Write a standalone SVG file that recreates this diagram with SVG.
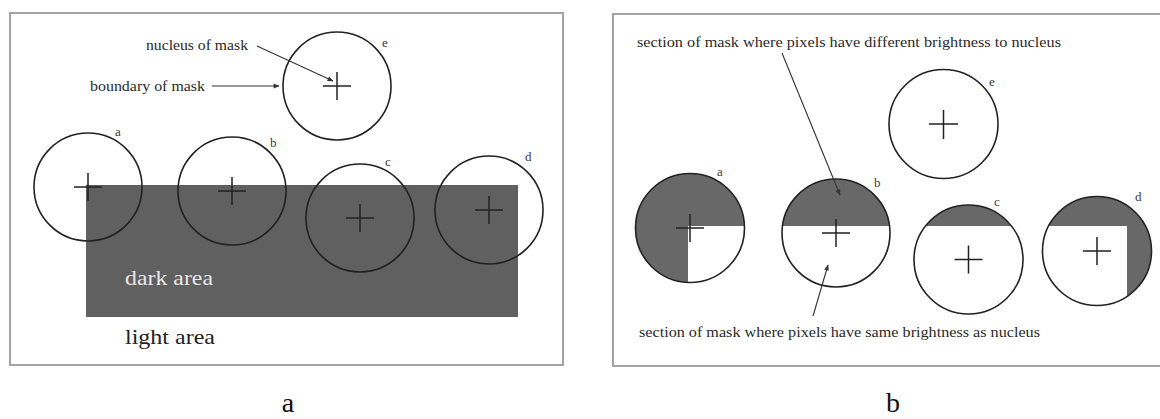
<svg xmlns="http://www.w3.org/2000/svg" width="1160" height="419" viewBox="0 0 1160 419">
<style>
.frame{fill:#fff;stroke:#a3a3a3;stroke-width:2}
.ring{fill:none;stroke:#222;stroke-width:1.6}
.plus{stroke:#222;stroke-width:1.5;fill:none}
.t{font-family:"Liberation Serif","Times New Roman",serif;fill:#2a2a2a}
.lbl{font-family:"Liberation Serif","Times New Roman",serif;font-size:13px;fill:#3a3a3a}
.cap{font-family:"Liberation Serif","DejaVu Serif",serif;font-size:28px;fill:#111;text-anchor:middle}
.gray{fill:#686868}
.arrow{stroke:#333;stroke-width:1.1;fill:none;marker-end:url(#ah)}
</style>
<defs>
<marker id="ah" viewBox="0 0 10 10" refX="9" refY="5" markerWidth="8" markerHeight="6" markerUnits="userSpaceOnUse" orient="auto">
<path d="M0,1 L10,5 L0,9 Z" fill="#333"/>
</marker>
<clipPath id="cpa"><circle cx="690" cy="228" r="54.5"/></clipPath>
<clipPath id="cpb"><circle cx="836" cy="233" r="54"/></clipPath>
<clipPath id="cpc"><circle cx="968.5" cy="259.5" r="54.5"/></clipPath>
<clipPath id="cpd"><circle cx="1097" cy="251" r="54.5"/></clipPath>
</defs>
<rect width="1160" height="419" fill="#fff"/>

<!-- Panel a -->
<g id="panel-a">
<rect class="frame" x="10" y="13" width="553" height="352"/>
<rect id="dark-rect" x="86" y="185" width="432" height="132" fill="#606060"/>
<text class="t" x="125" y="285" font-size="22" style="fill:#e8e8e8" textLength="88" lengthAdjust="spacingAndGlyphs">dark area</text>
<text class="t" x="125" y="344" font-size="22" style="fill:#222" textLength="90" lengthAdjust="spacingAndGlyphs">light area</text>
<text class="t" x="146" y="50" font-size="14" textLength="102" lengthAdjust="spacingAndGlyphs">nucleus of mask</text>
<text class="t" x="90" y="91" font-size="14" textLength="115" lengthAdjust="spacingAndGlyphs">boundary of mask</text>
</g>
<g id="a-mask-e">
<circle class="ring" cx="337" cy="86" r="54"/>
<path class="plus" d="M323,86 H351 M337,72 V100"/>
<text class="lbl" x="382" y="47">e</text>
</g>
<g id="a-mask-a">
<circle class="ring" cx="88" cy="187" r="54"/>
<path class="plus" d="M74,187 H102 M88,173 V201"/>
<text class="lbl" x="115" y="136">a</text>
</g>
<g id="a-mask-b">
<circle class="ring" cx="232" cy="191" r="54"/>
<path class="plus" d="M218,191 H246 M232,177 V205"/>
<text class="lbl" x="270" y="147">b</text>
</g>
<g id="a-mask-c">
<circle class="ring" cx="360" cy="218" r="54"/>
<path class="plus" d="M346,218 H374 M360,204 V232"/>
<text class="lbl" x="385" y="166">c</text>
</g>
<g id="a-mask-d">
<circle class="ring" cx="489" cy="210" r="54"/>
<path class="plus" d="M475,210 H503 M489,196 V224"/>
<text class="lbl" x="525" y="161">d</text>
</g>
<text id="caption-a" class="cap" x="288" y="412">a</text>

<!-- Panel b -->
<g id="panel-b">
<rect class="frame" x="613" y="14" width="548" height="352"/>
<text class="t" x="637" y="47" font-size="14.5" textLength="424" lengthAdjust="spacingAndGlyphs">section of mask where pixels have different brightness to nucleus</text>
<text class="t" x="639" y="337" font-size="14" textLength="401" lengthAdjust="spacingAndGlyphs">section of mask where pixels have same brightness as nucleus</text>
</g>
<g id="b-mask-e">
<circle class="ring" cx="943.5" cy="124" r="54.5"/>
<path class="plus" d="M929,124 H958 M943.5,110 V139"/>
<text class="lbl" x="989" y="86">e</text>
</g>
<g id="b-mask-a">
<circle class="gray" cx="690" cy="228" r="54.5"/>
<rect x="688" y="226" width="60" height="60" fill="#fff" clip-path="url(#cpa)"/>
<circle class="ring" cx="690" cy="228" r="54.5"/>
<path class="plus" d="M676,228 H704 M690,214 V242"/>
<text class="lbl" x="717" y="176">a</text>
</g>
<g id="b-mask-b">
<circle cx="836" cy="233" r="54" fill="#fff"/>
<rect x="780" y="176" width="112" height="50" class="gray" clip-path="url(#cpb)"/>
<circle class="ring" cx="836" cy="233" r="54"/>
<path class="plus" d="M822,233 H850 M836,219 V247"/>
<text class="lbl" x="874" y="187">b</text>
</g>
<g id="b-mask-c">
<circle cx="968.5" cy="259.5" r="54.5" fill="#fff"/>
<rect x="912" y="200" width="114" height="26" class="gray" clip-path="url(#cpc)"/>
<circle class="ring" cx="968.5" cy="259.5" r="54.5"/>
<path class="plus" d="M954.5,259.5 H982.5 M968.5,245.5 V273.5"/>
<text class="lbl" x="994" y="206">c</text>
</g>
<g id="b-mask-d">
<circle class="gray" cx="1097" cy="251" r="54.5"/>
<rect x="1040" y="226" width="87" height="84" fill="#fff" clip-path="url(#cpd)"/>
<circle class="ring" cx="1097" cy="251" r="54.5"/>
<path class="plus" d="M1083,251 H1111 M1097,237 V265"/>
<text class="lbl" x="1135" y="201">d</text>
</g>
<text id="caption-b" class="cap" x="893" y="412">b</text>

<!-- Connectors -->
<g id="connectors">
<line class="arrow" x1="257" y1="46" x2="333" y2="81"/>
<line class="arrow" x1="212" y1="86" x2="279" y2="86"/>
<line class="arrow" x1="782" y1="53" x2="840" y2="195"/>
<line class="arrow" x1="813" y1="316" x2="828" y2="265"/>
</g>
</svg>
